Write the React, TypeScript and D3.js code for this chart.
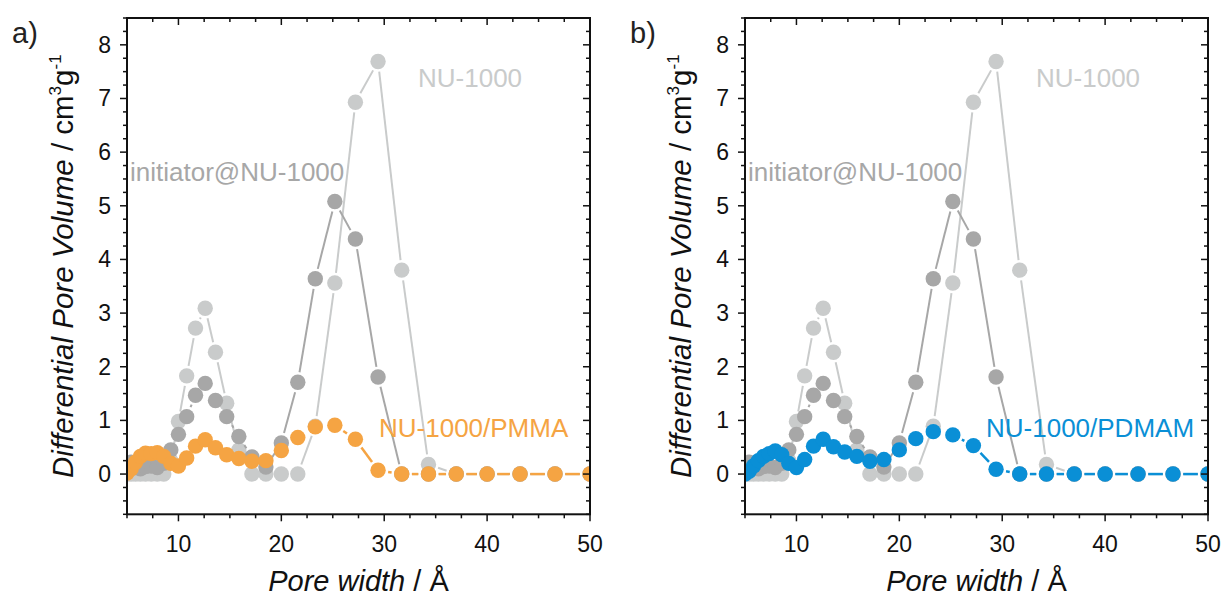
import React from 'react';
import * as d3 from 'd3';

// ---------- data ----------
const poreWidth = [5.0, 5.4, 5.83, 6.3, 6.8, 7.35, 7.94, 8.57, 9.26, 10.0, 10.8, 11.66, 12.6, 13.6, 14.69, 15.87, 17.14, 18.5, 20.0, 21.6, 23.3, 25.2, 27.2, 29.4, 31.7, 34.3, 37.0, 40.0, 43.2, 46.6, 50.0];
const nu1000 = [0, 0, 0, 0, 0, 0, 0, 0, 0.25, 0.98, 1.83, 2.72, 3.09, 2.27, 1.32, 0.45, 0, 0, 0, 0, 0.89, 3.56, 6.93, 7.69, 3.8, 0.18, 0, 0, 0, 0, 0];
const initiator = [0.2, 0.22, 0.12, 0.1, 0.14, 0.15, 0.12, 0.2, 0.45, 0.74, 1.07, 1.47, 1.69, 1.37, 1.07, 0.7, 0.32, 0.13, 0.58, 1.71, 3.64, 5.08, 4.38, 1.81, 0, 0, 0, 0, 0, 0, 0];
const pmma = [0.02, 0.1, 0.22, 0.33, 0.39, 0.38, 0.4, 0.33, 0.2, 0.15, 0.3, 0.52, 0.64, 0.49, 0.36, 0.29, 0.24, 0.25, 0.44, 0.68, 0.88, 0.91, 0.65, 0.07, 0, 0, 0, 0, 0, 0, 0];
const pdmam = [0.0, 0.05, 0.15, 0.25, 0.33, 0.38, 0.43, 0.36, 0.2, 0.12, 0.27, 0.52, 0.65, 0.51, 0.41, 0.33, 0.24, 0.27, 0.45, 0.66, 0.79, 0.73, 0.53, 0.09, 0, 0, 0, 0, 0, 0, 0];
const xMajorTicks = [10, 20, 30, 40, 50];
const yMajorTicks = [0, 1, 2, 3, 4, 5, 6, 7, 8];

const FONT = "'Liberation Sans', Arial, Helvetica, sans-serif";
const C_LIGHT = '#c9cbcb';
const C_DARK = '#a7a7a7';
const C_ORANGE = '#f5a443';
const C_BLUE = '#0a8fd6';

const TOP = 18;
const BOTTOM = 514.3;
const WIDTH = 463;
const R = 7.7;

function gapSegments(x: d3.ScaleLinear<number, number>, y: d3.ScaleLinear<number, number>, vals: number[], gap: number) {
  const pts = poreWidth.map((p, i) => [x(p), y(vals[i])]);
  const segs: number[][] = [];
  for (let i = 0; i < pts.length - 1; i++) {
    const [x1, y1] = pts[i];
    const [x2, y2] = pts[i + 1];
    const dx = x2 - x1, dy = y2 - y1;
    const len = Math.hypot(dx, dy);
    if (len <= 2 * gap + 1) continue;
    const ux = dx / len, uy = dy / len;
    segs.push([x1 + ux * gap, y1 + uy * gap, x2 - ux * gap, y2 - uy * gap]);
  }
  return segs;
}

function Series({ x, y, vals, color, width, clip }: any) {
  const segs = gapSegments(x, y, vals, R + 2.5);
  return (
    <g clipPath={`url(#${clip})`}>
      {segs.map((s, i) => (
        <line key={'l' + i} x1={s[0]} y1={s[1]} x2={s[2]} y2={s[3]} stroke={color} strokeWidth={width} />
      ))}
      {poreWidth.map((p, i) => (
        <circle key={'c' + i} cx={x(p)} cy={y(vals[i])} r={R} fill={color} />
      ))}
    </g>
  );
}

function Panel({ left, tag, polyName, polyVals, color, id }: any) {
  const x = d3.scaleLinear().domain([5, 50]).range([left, left + WIDTH]);
  const y = d3.scaleLinear().domain([-0.75, 8.5]).range([BOTTOM, TOP]);
  const xMinor = d3.range(5, 50.001, 2.5).filter((v) => !xMajorTicks.includes(v));
  const yMinor = d3.range(-0.75, 8.501, 0.25).filter((v) => Math.abs(v - Math.round(v)) > 1e-6);
  const right = left + WIDTH;
  const clip = 'clip' + id;
  const MAJ = 7, MIN = 4;
  return (
    <g>
      <defs>
        <clipPath id={clip}>
          <rect x={left} y={TOP} width={WIDTH} height={BOTTOM - TOP} />
        </clipPath>
      </defs>
      <Series x={x} y={y} vals={nu1000} color={C_LIGHT} width={2} clip={clip} />
      <Series x={x} y={y} vals={initiator} color={C_DARK} width={2} clip={clip} />
      <Series x={x} y={y} vals={polyVals} color={color} width={2.5} clip={clip} />

      {/* frame */}
      <rect x={left} y={TOP} width={WIDTH} height={BOTTOM - TOP} fill="none" stroke="#111" strokeWidth={2} />

      {/* bottom ticks (outward) and top ticks (inward) */}
      {xMajorTicks.map((t) => (
        <g key={'xm' + t}>
          <line x1={x(t)} x2={x(t)} y1={BOTTOM} y2={BOTTOM + MAJ} stroke="#111" strokeWidth={1.5} />
          <line x1={x(t)} x2={x(t)} y1={TOP} y2={TOP + MAJ} stroke="#111" strokeWidth={1.5} />
          <text x={x(t)} y={551.5} textAnchor="middle" fontSize={23} fontFamily={FONT} fill="#111">{t}</text>
        </g>
      ))}
      {xMinor.map((t) => (
        <g key={'xn' + t}>
          <line x1={x(t)} x2={x(t)} y1={BOTTOM} y2={BOTTOM + MIN} stroke="#111" strokeWidth={1.5} />
          <line x1={x(t)} x2={x(t)} y1={TOP} y2={TOP + MIN} stroke="#111" strokeWidth={1.5} />
        </g>
      ))}
      {/* left ticks (outward) and right ticks (inward) */}
      {yMajorTicks.map((t) => (
        <g key={'ym' + t}>
          <line x1={left - MAJ} x2={left} y1={y(t)} y2={y(t)} stroke="#111" strokeWidth={1.5} />
          <line x1={right - MAJ} x2={right} y1={y(t)} y2={y(t)} stroke="#111" strokeWidth={1.5} />
          <text x={left - 16} y={y(t) + 8} textAnchor="end" fontSize={23} fontFamily={FONT} fill="#111">{t}</text>
        </g>
      ))}
      {yMinor.map((t) => (
        <g key={'yn' + t}>
          <line x1={left - MIN} x2={left} y1={y(t)} y2={y(t)} stroke="#111" strokeWidth={1.5} />
          <line x1={right - MIN} x2={right} y1={y(t)} y2={y(t)} stroke="#111" strokeWidth={1.5} />
        </g>
      ))}

      {/* axis titles */}
      <text x={left + WIDTH / 2} y={591} textAnchor="middle" fontSize={29} fontFamily={FONT} fill="#111">
        <tspan fontStyle="italic">Pore width</tspan> / Å
      </text>
      <text transform={`translate(${left - 54},${(TOP + BOTTOM) / 2}) rotate(-90)`} textAnchor="middle" fontSize={29.5} fontFamily={FONT} fill="#111">
        <tspan fontStyle="italic">Differential Pore Volume</tspan>
        <tspan> / cm</tspan>
        <tspan fontSize={17} dy={-12}>3</tspan>
        <tspan dy={12}>g</tspan>
        <tspan fontSize={17} dy={-12}>-1</tspan>
      </text>

      {/* panel tag */}
      <text x={left - 115} y={43} fontSize={29} fontFamily={FONT} fill="#222">{tag}</text>

      {/* annotations */}
      <text x={left + 291} y={87} fontSize={26} fontFamily={FONT} fill={C_LIGHT}>NU-1000</text>
      <text x={left + 3} y={181} fontSize={26} fontFamily={FONT} fill={C_DARK}>initiator@NU-1000</text>
      <text x={left + (id === 'a' ? 252 : 241)} y={437} fontSize={26} fontFamily={FONT} fill={color}>{polyName}</text>
    </g>
  );
}

export default function App() {
  return (
    <svg width={1226} height={596} style={{ position: 'absolute', left: 0, top: 0, background: '#fff' }}>
      <rect x={0} y={0} width={1226} height={596} fill="#fff" />
      <Panel left={127} tag="a)" polyName="NU-1000/PMMA" polyVals={pmma} color={C_ORANGE} id="a" />
      <Panel left={745} tag="b)" polyName="NU-1000/PDMAM" polyVals={pdmam} color={C_BLUE} id="b" />
    </svg>
  );
}
